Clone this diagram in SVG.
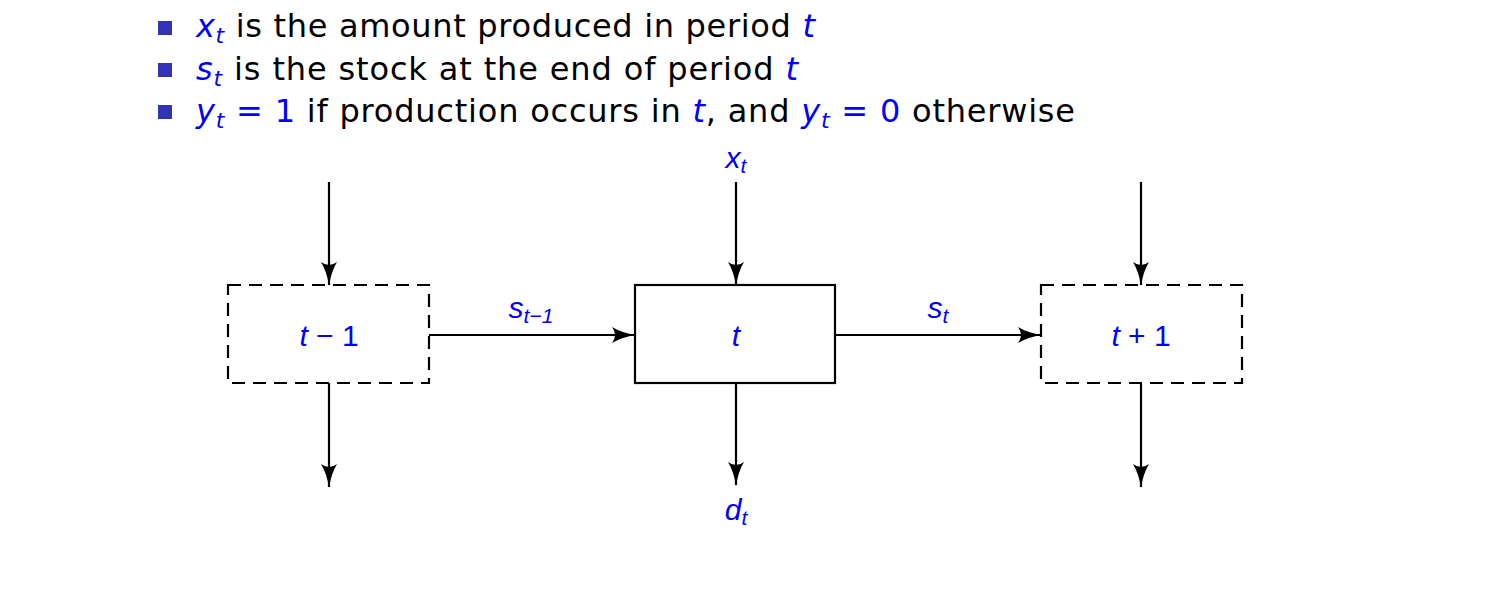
<svg xmlns="http://www.w3.org/2000/svg" width="1496" height="594" viewBox="0 0 1496 594">
<defs>
<marker id="ah" viewBox="0 0 24 18" refX="23" refY="9" markerWidth="24" markerHeight="18" markerUnits="userSpaceOnUse" orient="auto">
<path d="M0,1 Q10,7 24,9 Q10,11 0,17 Q6,9 0,1 Z" fill="#000"/>
</marker>
</defs>
<style>
text{font-family:"Liberation Sans",Arial,sans-serif;}
.b{font-family:"DejaVu Sans",sans-serif;font-size:32px;fill:#000;}
.m{fill:#0000ff;font-style:italic;}
.u{font-style:normal;}
.lab{font-size:30px;fill:#0000ff;font-style:italic;}
.box{fill:#fff;stroke:#000;stroke-width:2.2;}
.dash{stroke-dasharray:13,8;}
.c{stroke:#000;stroke-width:2.2;fill:none;}
.sq{fill:#3333b3;}
</style>
<rect width="1496" height="594" fill="#fff"/>
<g id="bullets">
<rect class="sq" x="158" y="21" width="14" height="14"/>
<rect class="sq" x="158" y="63" width="14" height="14"/>
<rect class="sq" x="158" y="105" width="14" height="14"/>
<text class="b" x="196" y="37" textLength="619" lengthAdjust="spacing"><tspan class="m">x</tspan><tspan class="m" font-size="22" dy="6">t</tspan><tspan dy="-6"> is the amount produced in period </tspan><tspan class="m">t</tspan></text>
<text class="b" x="196" y="80" textLength="602" lengthAdjust="spacing"><tspan class="m">s</tspan><tspan class="m" font-size="22" dy="6">t</tspan><tspan dy="-6"> is the stock at the end of period </tspan><tspan class="m">t</tspan></text>
<text class="b" x="196" y="122" textLength="879" lengthAdjust="spacing"><tspan class="m">y</tspan><tspan class="m" font-size="22" dy="6">t</tspan><tspan class="m u" dy="-6"> = 1</tspan><tspan> if production occurs in </tspan><tspan class="m">t</tspan><tspan>, and </tspan><tspan class="m">y</tspan><tspan class="m" font-size="22" dy="6">t</tspan><tspan class="m u" dy="-6"> = 0</tspan><tspan> otherwise</tspan></text>
</g>
<g id="connectors">
<line class="c" x1="329" y1="182" x2="329" y2="285" marker-end="url(#ah)"/>
<line class="c" x1="329" y1="383" x2="329" y2="487" marker-end="url(#ah)"/>
<line class="c" x1="736" y1="182" x2="736" y2="285" marker-end="url(#ah)"/>
<line class="c" x1="736" y1="383" x2="736" y2="485" marker-end="url(#ah)"/>
<line class="c" x1="1141" y1="182" x2="1141" y2="285" marker-end="url(#ah)"/>
<line class="c" x1="1141" y1="383" x2="1141" y2="487" marker-end="url(#ah)"/>
<line class="c" x1="429" y1="335" x2="635" y2="335" marker-end="url(#ah)"/>
<line class="c" x1="835" y1="335" x2="1041" y2="335" marker-end="url(#ah)"/>
<text class="lab" x="736" y="168" text-anchor="middle">x<tspan font-size="21" dy="5">t</tspan></text>
<text class="lab" x="736" y="520" text-anchor="middle">d<tspan font-size="21" dy="5">t</tspan></text>
<text class="lab" x="531" y="318" text-anchor="middle">s<tspan font-size="21" dy="5">t−1</tspan></text>
<text class="lab" x="938" y="318" text-anchor="middle">s<tspan font-size="21" dy="5">t</tspan></text>
</g>
<g id="node-prev">
<rect class="box dash" x="228" y="285" width="201" height="98"/>
<text class="lab" x="329" y="346" text-anchor="middle">t <tspan class="u">− 1</tspan></text>
</g>
<g id="node-t">
<rect class="box" x="635" y="285" width="200" height="98"/>
<text class="lab" x="736" y="346" text-anchor="middle">t</text>
</g>
<g id="node-next">
<rect class="box dash" x="1041" y="285" width="201" height="98"/>
<text class="lab" x="1141" y="346" text-anchor="middle">t <tspan class="u">+ 1</tspan></text>
</g>
</svg>
